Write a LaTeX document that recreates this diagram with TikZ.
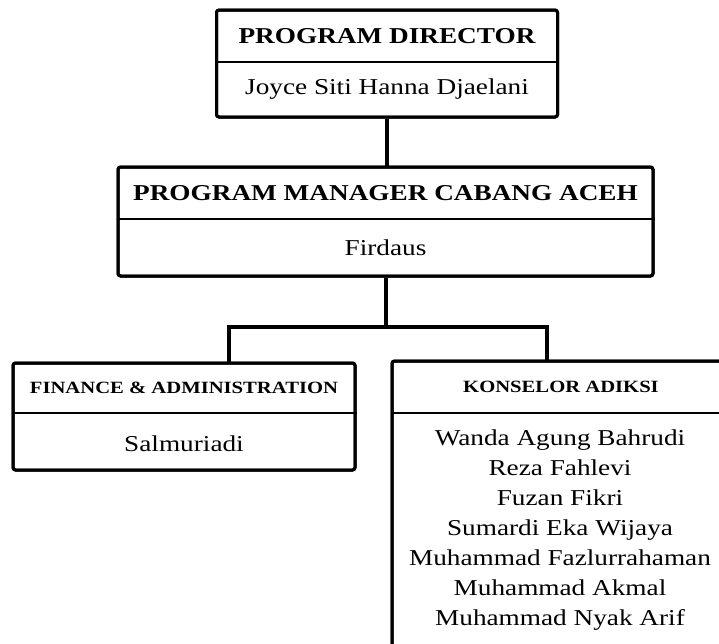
\documentclass[tikz,border=0pt]{standalone}
\usepackage{fontspec}
\setmainfont{Liberation Serif}[FakeStretch=1.2]
\begin{document}
\begin{tikzpicture}[x=1pt,y=-1pt,
  box/.style={draw=black, line width=3pt, rounded corners=2.5pt, fill=white, inner sep=0pt},
  divider/.style={draw=black, line width=2.6pt},
  conn/.style={draw=black, line width=4pt},
  title/.style={font=\fontsize{22.7}{27}\selectfont\bfseries, inner sep=0pt},
  smalltitle/.style={font=\fontsize{17.2}{20}\selectfont\bfseries, inner sep=0pt},
  person/.style={font=\fontsize{22.7}{30}\selectfont, inner sep=0pt, align=center}]
\useasboundingbox (0,0) rectangle (719,643);
\clip (0,0) rectangle (719,643);
\fill[white] (0,0) rectangle (719,643);
% connector coordinates
\coordinate (bus) at (386,327);
\coordinate (finTop) at (229,363);
\coordinate (konTop) at (547,361);
% boxes
\node[box, minimum width=341pt, minimum height=107pt] (dir) at (387,63.5) {};
\node[box, minimum width=535pt, minimum height=109pt] (mgr) at (385.5,221.5) {};
\node[box, minimum width=342pt, minimum height=107pt] (fin) at (184,416.5) {};
\node[box, minimum width=336pt, minimum height=339pt] (kon) at (560,530.5) {};
% connectors
\draw[conn] (dir.south) -- (dir.south |- mgr.north);
\draw[conn] (mgr.south) -- (mgr.south |- bus);
\draw[conn] (finTop) |- (bus) -| (konTop);
% redraw boxes borders on top of connectors
\node[box, fill=none, minimum width=341pt, minimum height=107pt] at (387,63.5) {};
\node[box, fill=none, minimum width=535pt, minimum height=109pt] at (385.5,221.5) {};
\node[box, fill=none, minimum width=342pt, minimum height=107pt] at (184,416.5) {};
\node[box, fill=none, minimum width=336pt, minimum height=339pt] at (560,530.5) {};
% dividers
\draw[divider] (dir.west |- 0,62) -- (dir.east |- 0,62);
\draw[divider] (mgr.west |- 0,219) -- (mgr.east |- 0,219);
\draw[divider] (fin.west |- 0,413) -- (fin.east |- 0,413);
\draw[divider] (kon.west |- 0,413) -- (kon.east |- 0,413);
% texts
\node[title] (dirT) at (387,36) {PROGRAM DIRECTOR};
\node[person] (dirN) at (387,89.5) {Joyce Siti Hanna Djaelani};
\node[title] (mgrT) at (385.5,193) {PROGRAM MANAGER CABANG ACEH};
\node[person] (mgrN) at (385.5,247.5) {Firdaus};
\node[smalltitle] (finT) at (184,388) {FINANCE \& ADMINISTRATION};
\node[person] (finN) at (184,444) {Salmuriadi};
\node[smalltitle] (konT) at (561,387) {KONSELOR ADIKSI};
\node[person] (konN) at (560,530) {Wanda Agung Bahrudi\\Reza Fahlevi\\Fuzan Fikri\\Sumardi Eka Wijaya\\Muhammad Fazlurrahaman\\Muhammad Akmal\\Muhammad Nyak Arif};
\end{tikzpicture}
\end{document}
